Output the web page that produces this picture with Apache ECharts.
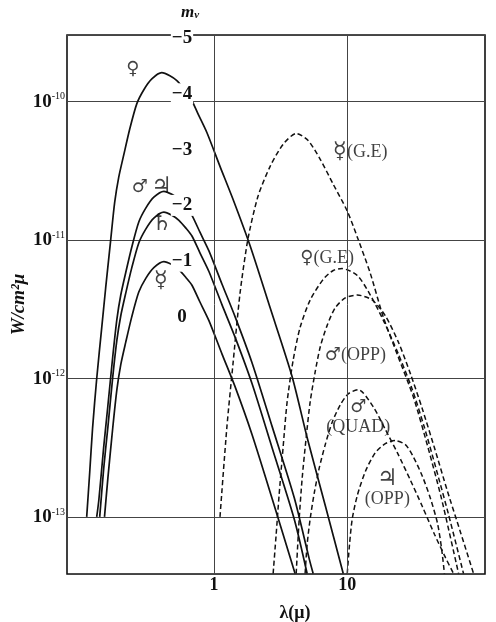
<!DOCTYPE html>
<html><head><meta charset="utf-8">
<script src="https://cdn.jsdelivr.net/npm/echarts@6/dist/echarts.min.js"></script>
<style>html,body{margin:0;padding:0;background:#fff}#c{width:496px;height:622px}</style>
</head><body><div id="c"></div>
<script>
// wavelength in micron, W in W/cm^2/micron
const venusL = [0.111,0.117,0.123,0.132,0.144,0.154,0.168,0.180,0.193,0.211,0.234,0.264,0.298,0.342,0.406,0.467,0.527,0.595,0.660,0.758,0.885,1.11,1.39,1.87,2.64,3.86,5.00,6.84,9.33];
const venusW = [1.0e-13,2.11e-13,4.44e-13,1.0e-12,2.34e-12,4.49e-12,1.0e-11,1.87e-11,2.84e-11,4.16e-11,6.40e-11,9.68e-11,1.22e-10,1.46e-10,1.62e-10,1.54e-10,1.42e-10,1.24e-10,1.09e-10,8.20e-11,5.99e-11,3.41e-11,1.97e-11,9.06e-12,3.24e-12,1.03e-12,3.75e-13,1.21e-13,3.9e-14];

const marsJupL = [0.132,0.137,0.149,0.160,0.174,0.187,0.200,0.218,0.242,0.273,0.308,0.354,0.421,0.483,0.546,0.616,0.684,0.785,0.917,1.15,1.44,1.93,2.73,4.00,5.18,5.55];
const marsJupW = [1.0e-13,1.33e-13,3.22e-13,6.33e-13,1.43e-12,2.67e-12,4.01e-12,5.83e-12,8.91e-12,1.35e-11,1.70e-11,2.04e-11,2.25e-11,2.14e-11,1.97e-11,1.73e-11,1.51e-11,1.14e-11,8.35e-12,4.80e-12,2.80e-12,1.30e-12,4.51e-13,1.38e-13,5.00e-14,3.9e-14];

const saturnL = [0.139,0.149,0.160,0.174,0.187,0.200,0.218,0.242,0.273,0.308,0.354,0.421,0.483,0.546,0.616,0.684,0.785,0.917,1.15,1.44,1.93,2.73,4.00,5.00];
const saturnW = [1.0e-13,2.25e-13,4.44e-13,1.02e-12,1.89e-12,2.84e-12,4.14e-12,6.32e-12,9.53e-12,1.20e-11,1.44e-11,1.59e-11,1.51e-11,1.39e-11,1.22e-11,1.07e-11,8.09e-12,5.93e-12,3.40e-12,1.99e-12,9.19e-13,3.16e-13,9.67e-14,3.9e-14];

const mercuryL = [0.151,0.160,0.174,0.187,0.200,0.218,0.242,0.273,0.308,0.354,0.421,0.483,0.546,0.616,0.684,0.785,0.917,1.15,1.44,1.93,2.73,4.06];
const mercuryW = [1.0e-13,1.90e-13,4.37e-13,8.30e-13,1.26e-12,1.83e-12,2.80e-12,4.21e-12,5.29e-12,6.32e-12,6.98e-12,6.65e-12,6.12e-12,5.37e-12,4.72e-12,3.57e-12,2.62e-12,1.50e-12,8.73e-13,3.94e-13,1.36e-13,3.9e-14];

const mercGEL = [1.11,1.25,1.39,1.57,1.80,2.14,2.64,3.30,4.14,5.09,6.27,7.85,10.0,11.9,14.9,18.7,23.8,31.3,40.0,50.9,68.4];
const mercGEW = [1.0e-13,4.44e-13,1.28e-12,4.14e-12,1.02e-11,2.07e-11,3.41e-11,4.91e-11,5.89e-11,5.24e-11,3.83e-11,2.53e-11,1.62e-11,1.05e-11,5.74e-12,2.75e-12,1.48e-12,7.38e-13,3.27e-13,1.36e-13,3.9e-14];

const venGEL = [2.78,2.93,3.08,3.30,3.54,3.93,4.43,5.27,6.60,7.85,9.17,11.9,14.9,18.7,24.2,30.8,37.9,46.7,57.4,74.5];
const venGEW = [3.9e-14,7.50e-14,1.43e-13,3.16e-13,6.78e-13,1.36e-12,2.34e-12,3.69e-12,5.20e-12,6.03e-12,6.22e-12,5.55e-12,4.01e-12,2.62e-12,1.50e-12,8.30e-13,4.44e-13,2.18e-13,1.05e-13,3.9e-14];

const marsOppL = [4.14,4.36,4.59,4.92,5.27,5.75,6.27,7.07,8.12,9.66,11.9,15.4,19.3,24.2,29.8,36.6,45.1,56.5,70.7,88.6];
const marsOppW = [3.9e-14,9.67e-14,1.90e-13,3.75e-13,6.78e-13,1.12e-12,1.69e-12,2.42e-12,3.24e-12,3.82e-12,4.01e-12,3.69e-12,2.84e-12,1.83e-12,1.08e-12,6.02e-13,3.16e-13,1.53e-13,7.76e-14,3.9e-14];

const marsQuadL = [4.83,5.00,5.27,5.65,6.16,6.84,7.71,8.86,10.2,12.1,15.7,19.3,23.8,29.8,36.6,45.1,54.6,62.7];
const marsQuadW = [3.9e-14,6.32e-14,9.67e-14,1.48e-13,2.25e-13,3.33e-13,4.83e-13,6.44e-13,7.76e-13,8.30e-13,6.22e-13,4.29e-13,2.90e-13,1.84e-13,1.19e-13,7.50e-14,5.08e-14,3.9e-14];

const jupOppL = [10.0,10.4,10.9,11.9,13.7,16.2,19.3,23.0,27.3,31.3,36.6,42.1,47.5,50.9,53.6];
const jupOppW = [3.9e-14,6.32e-14,9.67e-14,1.43e-13,2.14e-13,2.90e-13,3.38e-13,3.56e-13,3.33e-13,2.72e-13,1.97e-13,1.36e-13,9.03e-14,6.01e-14,3.9e-14];

// curve labels
const labelText = ['♀','♂ ♃','♄','☿','☿(G.E)','♀(G.E)','♂(OPP)','♂\n(QUAD)','♃\n(OPP)'];
const labelL = [0.246,0.342,0.406,0.400,12.5,7.07,11.5,12.1,20.0];
const labelW = [1.70e-10,2.41e-11,1.30e-11,5.04e-12,4.30e-11,7.33e-12,1.48e-12,5.26e-13,1.58e-13];

// axis ticks
const xTickVals = [1,10];
const yTickExps = [-10,-11,-12,-13];
const magTicks = [-5,-4,-3,-2,-1,0];

const pairs = (l,w) => l.map((v,i)=>[v,w[i]]);
const serif = '"Liberation Serif","DejaVu Serif",serif';
const symFont = '"DejaVu Sans","Noto Sans",sans-serif';

function solid(l,w){return {type:'line',data:pairs(l,w),showSymbol:false,smooth:0.25,clip:true,
  lineStyle:{color:'#111',width:1.7,type:'solid'},z:3};}
function dashed(l,w){return {type:'line',data:pairs(l,w),showSymbol:false,smooth:0.25,clip:true,
  lineStyle:{color:'#111',width:1.5,type:[5,3]},z:3};}
const richLabel = t => t.split('\n').map(line=>line
    .replace(/([♀♂])/g,'{p|$1}').replace(/([☿♃♄])/g,'{q|$1}')
    .replace(/\(([^)]*)\)/g,'{t|($1)}')).join('\n');

const chart = echarts.init(document.getElementById('c'),null,{renderer:'canvas'});
const option = {
  animation:false,
  backgroundColor:'#fff',
  grid:{left:67,right:11,top:35,bottom:48,show:true,borderColor:'#111',borderWidth:1.6,
        containLabel:false,outerBoundsMode:'none'},
  xAxis:[{type:'log',logBase:10,min:0.079,max:108,
    axisLine:{show:false},axisTick:{show:false},splitLine:{show:false},
    axisLabel:{margin:2,color:'#111',fontFamily:serif,fontSize:18,fontWeight:'bold',
      formatter:v=>{for(const t of xTickVals){if(Math.abs(v-t)<1e-6*t) return String(t);} return '';}},
    name:'λ(μ)',nameLocation:'middle',nameGap:30,nameMoveOverlap:false,
    nameTextStyle:{color:'#111',fontFamily:serif,fontSize:18,fontWeight:'bold',padding:[0,0,0,38]}
  }],
  yAxis:[{type:'log',logBase:10,min:3.87e-14,max:3.03e-10,
    axisLine:{show:false},axisTick:{show:false},
    splitLine:{show:true,lineStyle:{color:'#444',width:1}},
    axisLabel:{margin:2,color:'#111',
      formatter:v=>{const e=Math.log10(v);const r=Math.round(e);
        if(Math.abs(e-r)>0.01||yTickExps.indexOf(r)<0) return '';
        return '{b|10}{s|'+r+'}';},
      rich:{b:{fontFamily:serif,fontSize:19,fontWeight:'bold',color:'#111',verticalAlign:'bottom'},
            s:{fontFamily:serif,fontSize:10,color:'#111',verticalAlign:'top',padding:[0,0,10,0]}}},
    name:'W/cm²μ',nameLocation:'middle',nameGap:38,nameMoveOverlap:false,
    nameTextStyle:{color:'#111',fontFamily:serif,fontSize:19,fontWeight:'bold',fontStyle:'italic'}
  },{type:'value',inverse:true,min:-5.054,max:4.606,position:'left',offset:-129,z:10,
    axisLine:{show:false},axisTick:{show:false},splitLine:{show:false},
    axisLabel:{customValues:magTicks,margin:14,align:'center',color:'#111',fontFamily:serif,fontSize:19,fontWeight:'bold',
      backgroundColor:'#fff',padding:[1,1,1,1],
      formatter:v=>v===0?'0':'−'+Math.abs(v)},
    name:'{m|m}{v|v}',nameLocation:'start',nameGap:14,nameMoveOverlap:false,
    nameTextStyle:{padding:[0,12,0,0],rich:{m:{fontFamily:serif,fontSize:17,fontWeight:'bold',fontStyle:'italic',color:'#111'},
       v:{fontFamily:serif,fontSize:11,fontStyle:'italic',fontWeight:'bold',color:'#111',verticalAlign:'bottom',padding:[6,0,0,0]}}}
  }],
  series:[
    Object.assign(solid(venusL,venusW),{markLine:{silent:true,symbol:'none',label:{show:false},
      lineStyle:{color:'#444',width:1,type:'solid'},data:xTickVals.map(v=>({xAxis:v}))}}),
    solid(marsJupL,marsJupW),
    solid(saturnL,saturnW),
    solid(mercuryL,mercuryW),
    dashed(mercGEL,mercGEW),
    dashed(venGEL,venGEW),
    dashed(marsOppL,marsOppW),
    dashed(marsQuadL,marsQuadW),
    dashed(jupOppL,jupOppW),
    {type:'scatter',symbolSize:0,z:5,silent:true,
     data:labelText.map((t,i)=>({name:t,value:[labelL[i],labelW[i]]})),
     label:{show:true,position:'inside',formatter:p=>richLabel(p.name),color:'#111',lineHeight:20,
       rich:{p:{fontFamily:symFont,fontSize:18,color:'#111',lineHeight:20},
             q:{fontFamily:symFont,fontSize:23,color:'#111',lineHeight:20},
             t:{fontFamily:serif,fontSize:18,color:'#111',lineHeight:20}}}}
  ]
};
chart.setOption(option);
</script></body></html>
